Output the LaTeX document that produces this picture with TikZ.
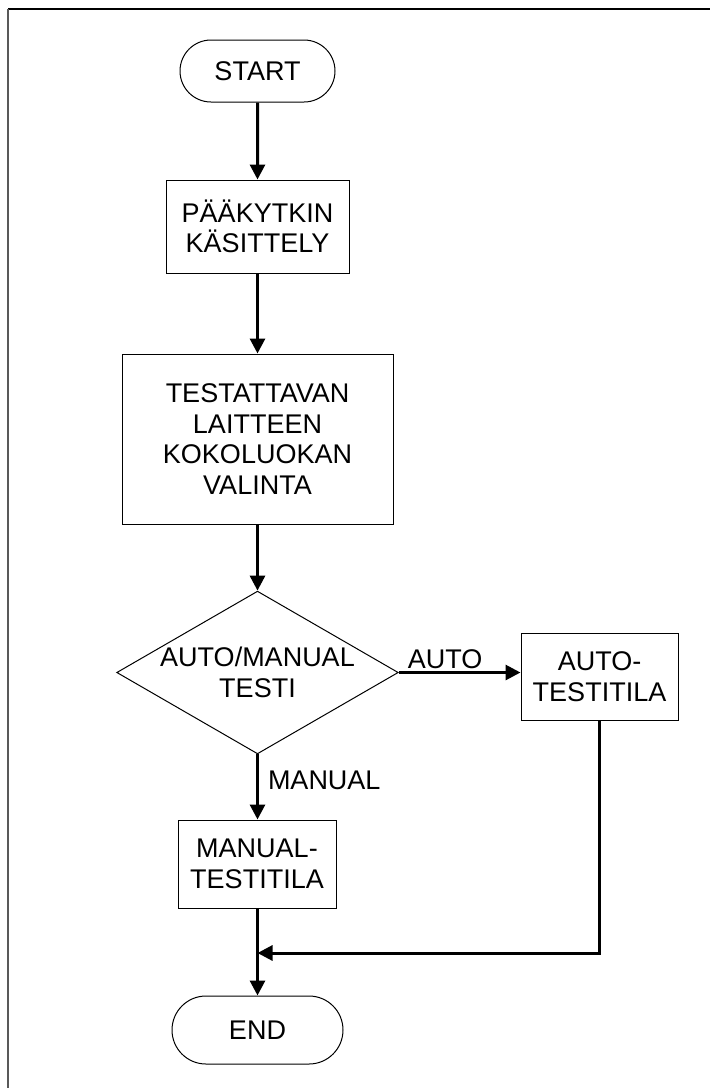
\documentclass[tikz,border=0pt]{standalone}
\usepackage{fontspec}
\setmainfont{Liberation Sans}
\usetikzlibrary{shapes.geometric,shapes.misc,arrows.meta}
\begin{document}
\begin{tikzpicture}[x=1pt,y=-1pt,
  every node/.style={font=\fontsize{27}{30.5}\selectfont, align=center, inner sep=0pt},
  terminal/.style={rounded rectangle, draw, line width=1pt},
  process/.style={rectangle, draw, line width=1pt},
  decision/.style={diamond, draw, line width=1pt, aspect=1.73},
  flow/.style={line width=3pt, -{Triangle[length=15pt,width=15pt]}},
  lbl/.style={font=\fontsize{27}{30.5}\selectfont}
]
\useasboundingbox (0,0) rectangle (710,1088);
% page frame (top and left edges)
\draw[line width=1.5pt] (8,9) -- (710,9);
\draw[line width=2pt, gray!70!black] (8,9) -- (8,1088);

\node[terminal, minimum width=155pt, minimum height=62pt] (start) at (257.5,71) {START};
\node[process, minimum width=183pt, minimum height=93pt] (pk) at (257.5,226.5) {PÄÄKYTKIN\\KÄSITTELY};
\node[process, minimum width=271pt, minimum height=170pt] (tl) at (257.5,439) {TESTATTAVAN\\LAITTEEN\\KOKOLUOKAN\\VALINTA};
\node[decision, minimum width=275pt, minimum height=159pt] (dec) at (257.5,672.5) {AUTO/MANUAL\\TESTI};
\node[process, minimum width=157pt, minimum height=87pt] (auto) at (599.5,676.5) {AUTO-\\TESTITILA};
\node[process, minimum width=158pt, minimum height=88pt] (man) at (257,864) {MANUAL-\\TESTITILA};
\node[terminal, minimum width=171pt, minimum height=68pt] (end) at (257.5,1030) {END};

\coordinate (join) at (257.5,953);

\draw[flow] (start) -- (pk);
\draw[flow] (pk) -- (tl);
\draw[flow] (tl) -- (dec);
\draw[flow] (dec.east) -- node[pos=0.38, above=2pt, lbl] {AUTO} (auto.west |- dec.east);
\draw[flow] (dec.south) -- node[pos=0.4, right=9pt, lbl] {MANUAL} (man.north -| dec.south);
\draw[flow] (man.south -| end.north) -- (end.north);
\draw[flow] (auto.south) |- (join);
\end{tikzpicture}
\end{document}
